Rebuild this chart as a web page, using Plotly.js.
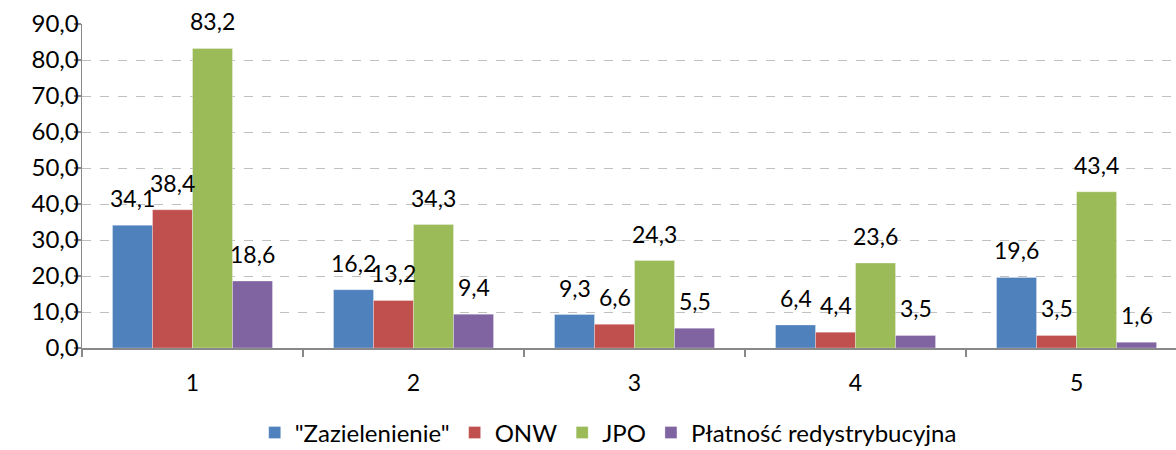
<!DOCTYPE html>
<html>
<head>
<meta charset="utf-8">
<script src="https://cdn.plot.ly/plotly-3.0.1.min.js"></script>
<style>html,body{margin:0;padding:0;background:#fff;}#chart{width:1176px;height:450px;}</style>
</head>
<body>
<div id="chart"></div>
<script>
const categories = ["1", "2", "3", "4", "5"];
const seriesNames = ['"Zazielenienie"', "ONW", "JPO", "Płatność redystrybucyjna"];
const zazielenienie = [34.1, 16.2, 9.3, 6.4, 19.6];
const onw = [38.4, 13.2, 6.6, 4.4, 3.5];
const jpo = [83.2, 34.3, 24.3, 23.6, 43.4];
const platnosc = [18.6, 9.4, 5.5, 3.5, 1.6];
const yTicks = [0, 10, 20, 30, 40, 50, 60, 70, 80, 90];

const colors = ["#4F81BD", "#C0504D", "#9BBB59", "#8064A2"];
const values = [zazielenienie, onw, jpo, platnosc];
const font = {family: "Lato, 'Open Sans', sans-serif", size: 23, color: "#000"};
const legendFont = {family: "Lato, 'Open Sans', sans-serif", size: 24, color: "#000"};

const W = 1176, H = 450;
const margin = {l: 82, r: 0, t: 24, b: 102, autoexpand: false};
const xRange = [-0.5, 4.45];
const bargap = 0.276;
const nSeries = values.length;
const catPx = (W - margin.l - margin.r) / (xRange[1] - xRange[0]);
const barPx = catPx * (1 - bargap) / nSeries;

const traces = values.map((v, i) => ({
  type: "bar",
  name: seriesNames[i],
  x: categories,
  y: v,
  marker: {color: colors[i], line: {color: "rgba(255,255,255,0.6)", width: 0.5}},
  hoverinfo: "skip"
}));

const annotations = [];
values.forEach((v, i) => {
  v.forEach((val, j) => {
    annotations.push({
      x: j, y: val, xref: "x", yref: "y",
      text: val.toFixed(1).replace(".", ","),
      showarrow: false,
      xshift: (i - (nSeries - 1) / 2) * barPx,
      yanchor: "bottom", yshift: 11,
      font: font
    });
  });
});

const layout = {
  width: W, height: H,
  margin: margin,
  separators: ", ",
  barmode: "group",
  bargap: bargap,
  bargroupgap: 0,
  paper_bgcolor: "#fff",
  plot_bgcolor: "#fff",
  font: font,
  showlegend: true,
  annotations: annotations,
  legend: {
    orientation: "h", x: 0.481, xanchor: "center", y: -0.262, yanchor: "middle",
    font: legendFont, itemwidth: 30, traceorder: "normal",
    borderwidth: 0, bgcolor: "rgba(0,0,0,0)"
  },
  xaxis: {
    type: "category",
    range: xRange,
    showline: true, linecolor: "#888", linewidth: 1.5,
    ticks: "outside", tickson: "boundaries", ticklen: 7, tickcolor: "#888", tickwidth: 1.5,
    ticklabelstandoff: 14,
    tickfont: font,
    showgrid: false, zeroline: false
  },
  yaxis: {
    range: [0, 90],
    tickvals: yTicks,
    tickformat: ".1f",
    showline: true, linecolor: "#888", linewidth: 1.5,
    ticks: "outside", ticklen: 7, tickcolor: "#888", tickwidth: 1.5,
    ticklabelstandoff: -10,
    tickfont: {family: font.family, size: 24, color: "#000"},
    showgrid: true, gridcolor: "#b0b0b0", griddash: "dash", gridwidth: 0.8,
    zeroline: false
  }
};

Plotly.newPlot("chart", traces, layout, {displayModeBar: false, staticPlot: true});
</script>
</body>
</html>
